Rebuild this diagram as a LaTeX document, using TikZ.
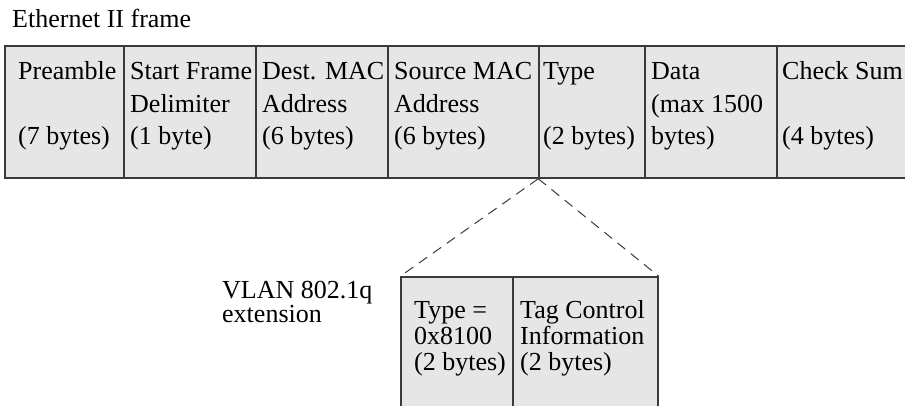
\documentclass[tikz,border=0pt]{standalone}
\usepackage{fontspec}
\setmainfont{Liberation Serif}
\definecolor{cellfill}{HTML}{E6E6E6}
\definecolor{rulecol}{HTML}{3A3A3A}
\tikzset{
  field/.style={draw=rulecol, fill=cellfill, line width=1.5pt, inner sep=0pt, rectangle},
  label/.style={anchor=base west, inner sep=0pt, font=\fontsize{26}{30}\selectfont},
  vlanlink/.style={draw=rulecol, line width=1pt, dash pattern=on 10pt off 7pt}
}
\newcommand{\fieldbox}[5]{% name, left, right, top, bottom
  \node[field, minimum width={(#3-#2)*1pt}, minimum height={(#5-#4)*1pt}]
    (#1) at ({(#2+#3)/2},{(#4+#5)/2}) {};}
\begin{document}
\begin{tikzpicture}[x=1pt, y=-1pt]
\useasboundingbox (0,0) rectangle (905,405);
\clip (0,0) rectangle (905,405);

% title
\node[label] (title) at (12,27) {Ethernet II frame};

% Ethernet II frame fields
\fieldbox{pre}{5}{124}{46}{178}
\fieldbox{sfd}{124}{256}{46}{178}
\fieldbox{dst}{256}{388}{46}{178}
\fieldbox{src}{388}{539}{46}{178}
\fieldbox{type}{539}{645}{46}{178}
\fieldbox{data}{645}{777}{46}{178}
\fieldbox{cks}{777}{930}{46}{178}

\node[label] (pre1) at (18,79) {Preamble};
\node[label] (pre3) at (18,144) {(7 bytes)};
\node[label] (sfd1) at (130,79) {Start Frame};
\node[label] (sfd2) at (130,112) {Delimiter};
\node[label] (sfd3) at (130,144) {(1 byte)};
\node[label] (dst1) at (262,79) {Dest. MAC};
\node[label] (dst2) at (262,112) {Address};
\node[label] (dst3) at (262,144) {(6 bytes)};
\node[label] (src1) at (394,79) {Source MAC};
\node[label] (src2) at (394,112) {Address};
\node[label] (src3) at (394,144) {(6 bytes)};
\node[label] (type1) at (543,79) {Type};
\node[label] (type3) at (543,144) {(2 bytes)};
\node[label] (data1) at (651,79) {Data};
\node[label] (data2) at (651,112) {(max 1500};
\node[label] (data3) at (651,144) {bytes)};
\node[label] (cks1) at (782,79) {Check Sum};
\node[label] (cks3) at (782,144) {(4 bytes)};

% VLAN 802.1q tag
\node[label] (vlan1) at (222,298) {VLAN 802.1q};
\node[label] (vlan2) at (222,322) {extension};

\fieldbox{tpid}{401}{513}{277}{430}
\fieldbox{tci}{513}{658}{277}{430}

\node[label] (tpid1) at (414,318) {Type =};
\node[label] (tpid2) at (414,344) {0x8100};
\node[label] (tpid3) at (414,370) {(2 bytes)};
\node[label] (tci1) at (520,318) {Tag Control};
\node[label] (tci2) at (520,344) {Information};
\node[label] (tci3) at (520,370) {(2 bytes)};

% expansion of the type field
\draw[vlanlink] (type.south west) -- (tpid.north west);
\draw[vlanlink] (type.south west) -- (tci.north east);
\end{tikzpicture}
\end{document}
